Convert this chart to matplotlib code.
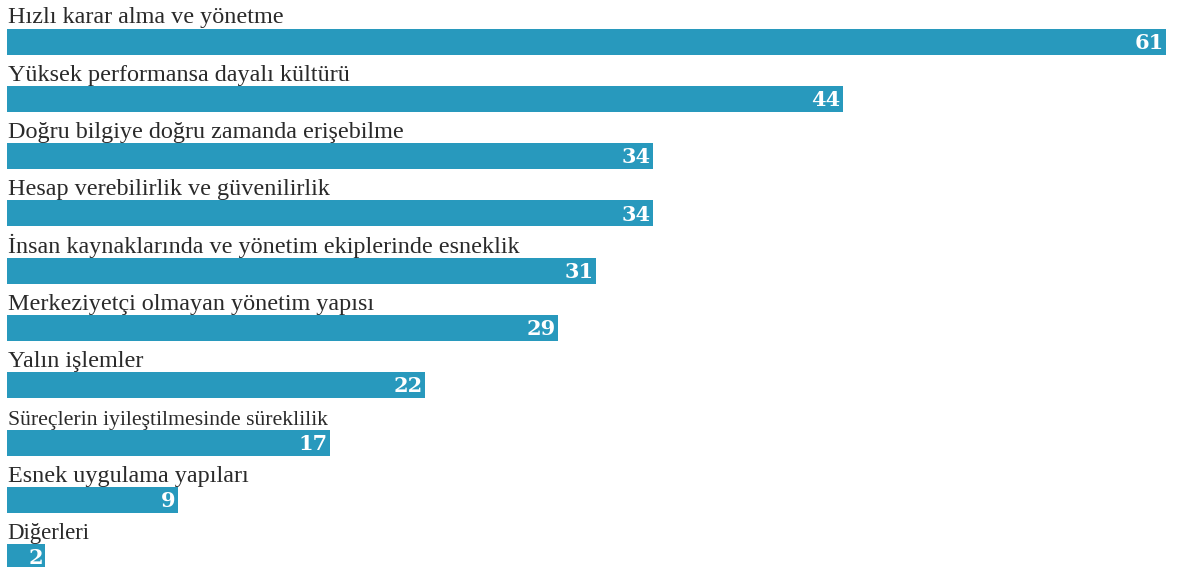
import matplotlib
matplotlib.use('Agg')
import matplotlib.pyplot as plt

categories = [
    'Hızlı karar alma ve yönetme',
    'Yüksek performansa dayalı kültürü',
    'Doğru bilgiye doğru zamanda erişebilme',
    'Hesap verebilirlik ve güvenilirlik',
    'İnsan kaynaklarında ve yönetim ekiplerinde esneklik',
    'Merkeziyetçi olmayan yönetim yapısı',
    'Yalın işlemler',
    'Süreçlerin iyileştilmesinde süreklilik',
    'Esnek uygulama yapıları',
    'Diğerleri',
]
values = [61, 44, 34, 34, 31, 29, 22, 17, 9, 2]

BAR_COLOR = '#2899bd'
W, H = 1179, 567
STEP = 57.3      # px between bar centres
TOP = 41.5       # px, centre of first bar

fig = plt.figure(figsize=(W / 100, H / 100), dpi=100)
ax = fig.add_axes([7 / W, 0, 1159 / W, 1])

bar_h = 26 / STEP
ypos = list(range(len(values)))
ax.barh(ypos, values, height=bar_h, color=BAR_COLOR, edgecolor='none')
ax.set_xlim(0, max(values))
ax.set_ylim((H - TOP) / STEP, -TOP / STEP)
ax.set_axis_off()

label_size = {'Süreçlerin iyileştilmesinde süreklilik': 15.7, 'Diğerleri': 16.4}
for y, cat, v in zip(ypos, categories, values):
    ax.text(0.03, y - bar_h / 2 - 5 / STEP, cat, ha='left', va='baseline',
            fontsize=label_size.get(cat, 17.4), family='Liberation Serif',
            color='#2a2a2a')
    ax.text(v - 0.12, y + 0.02, str(v), ha='right', va='center',
            fontsize=15, family='DejaVu Serif', fontweight='bold', color='white')

fig.savefig('out.png', dpi=100)
